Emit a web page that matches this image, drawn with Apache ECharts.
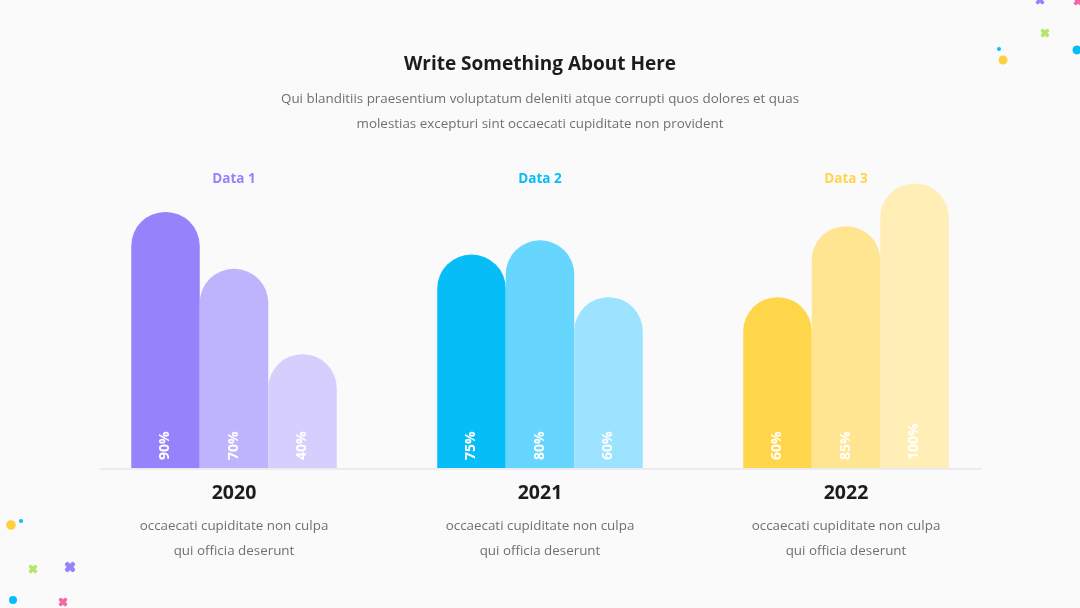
<!DOCTYPE html>
<html>
<head>
<meta charset="utf-8">
<script src="https://cdn.jsdelivr.net/npm/echarts@6/dist/echarts.min.js"></script>
<style>
html,body{margin:0;padding:0;background:#fafafb;}
#chart{width:1080px;height:608px;}
</style>
</head>
<body>
<div id="chart"></div>
<script>
// ---- data ----
var years = ['2020', '2021', '2022'];
var groupNames = ['Data 1', 'Data 2', 'Data 3'];
var descLine1 = ['occaecati cupiditate non culpa', 'occaecati cupiditate non culpa', 'occaecati cupiditate non culpa'];
var descLine2 = ['qui officia deserunt', 'qui officia deserunt', 'qui officia deserunt'];
var barA = [90, 75, 60];
var barB = [70, 80, 85];
var barC = [40, 60, 100];

// ---- styles ----
var groupColors = ['#9683fc', '#07bdf8', '#ffd54a'];
var colorsA = ['#9683fc', '#07bdf8', '#ffd64a'];
var colorsB = ['#beb4fd', '#66d6fe', '#ffe591'];
var colorsC = ['#d6cffe', '#9be3fe', '#ffeeb5'];
var FONT = '"Open Sans", "Noto Sans", sans-serif';

function mkSeries(name, values, colors) {
  return {
    name: name,
    type: 'bar',
    barWidth: 68.5,
    barGap: '0%',
    data: values.map(function (v, i) {
      return { value: v, itemStyle: { color: colors[i] } };
    }),
    itemStyle: { borderRadius: [34, 34, 0, 0] },
    label: {
      show: true,
      position: 'insideBottom',
      distance: 8,
      rotate: 90,
      align: 'left',
      verticalAlign: 'middle',
      formatter: '{c}%',
      color: '#ffffff',
      fontFamily: FONT,
      fontWeight: 'bold',
      fontSize: 14
    },
    emphasis: { disabled: true }
  };
}

function cross(x, y, color, s) {
  return {
    type: 'group', x: x, y: y, rotation: Math.PI / 4,
    children: [
      { type: 'rect', shape: { x: -s, y: -s * 0.38, width: 2 * s, height: s * 0.76, r: s * 0.3 }, style: { fill: color } },
      { type: 'rect', shape: { x: -s * 0.38, y: -s, width: s * 0.76, height: 2 * s, r: s * 0.3 }, style: { fill: color } }
    ]
  };
}
function dot(x, y, r, color) {
  return { type: 'circle', shape: { cx: x, cy: y, r: r }, style: { fill: color } };
}

var topRich = {};
groupNames.forEach(function (n, i) {
  topRich['g' + i] = { color: groupColors[i], fontFamily: FONT, fontWeight: 'bold', fontSize: 13.5 };
});

var chart = echarts.init(document.getElementById('chart'));
chart.setOption({
  backgroundColor: '#fafafb',
  animation: false,
  title: [
    {
      text: 'Write Something About Here',
      left: 'center', top: 47,
      textStyle: { fontFamily: FONT, fontWeight: 'bold', fontSize: 19, color: '#1c1c1c', lineHeight: 26 }
    },
    {
      text: 'Qui blanditiis praesentium voluptatum deleniti atque corrupti quos dolores et quas\nmolestias excepturi sint occaecati cupiditate non provident',
      left: 'center', top: 81.5,
      textStyle: { fontFamily: FONT, fontWeight: 'normal', fontSize: 13.4, color: '#707070', lineHeight: 25, align: 'center' }
    }
  ],
  grid: { left: 81, right: 81, top: 155, bottom: 140 },
  xAxis: [
    {
      type: 'category',
      data: years,
      position: 'bottom',
      axisLine: { show: false },
      axisTick: { show: false },
      axisLabel: {
        margin: 5,
        interval: 0,
        formatter: function (v, i) {
          return '{y|' + v + '}\n{d|' + descLine1[i] + '}\n{d|' + descLine2[i] + '}';
        },
        rich: {
          y: { fontFamily: FONT, fontWeight: 'bold', fontSize: 19.5, color: '#1c1c1c', lineHeight: 41 },
          d: { fontFamily: FONT, fontSize: 13.4, color: '#707070', lineHeight: 25 }
        }
      }
    },
    {
      type: 'category',
      data: groupNames,
      position: 'top',
      axisLine: { show: false },
      axisTick: { show: false },
      axisLabel: {
        margin: -24,
        interval: 0,
        verticalAlign: 'middle',
        formatter: function (v, i) { return '{g' + i + '|' + v + '}'; },
        rich: topRich
      }
    }
  ],
  yAxis: {
    type: 'value', min: 0, max: 110,
    show: false,
    splitLine: { show: false }
  },
  series: [
    mkSeries('A', barA, colorsA),
    mkSeries('B', barB, colorsB),
    mkSeries('C', barC, colorsC)
  ],
  graphic: [
    { type: 'line', shape: { x1: 100, y1: 469, x2: 982, y2: 469 }, style: { stroke: '#ececf0', lineWidth: 2 }, z: -1 },
    // top-right decorations
    cross(1040, 0, '#9683fc', 5),
    cross(1078, 1, '#f06aa8', 5),
    cross(1045, 33, '#b5e66a', 5),
    dot(999, 49, 2, '#07bdf8'),
    dot(1003, 60, 4.5, '#ffcf3f'),
    dot(1077, 50, 4.5, '#07bdf8'),
    // bottom-left decorations
    dot(11, 525, 4.8, '#ffcf3f'),
    dot(21, 521, 2, '#07bdf8'),
    cross(33, 569, '#b5e66a', 5),
    cross(70, 567, '#9683fc', 6),
    cross(63, 602, '#f06aa8', 5),
    dot(13, 600, 4, '#07bdf8')
  ]
});
</script>
</body>
</html>
